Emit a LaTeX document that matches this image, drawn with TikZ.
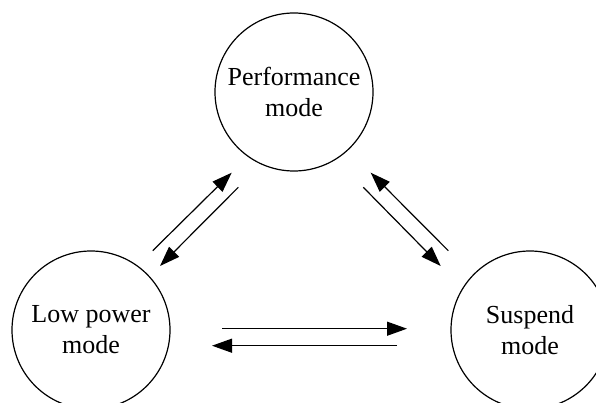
\documentclass[tikz,border=0pt]{standalone}
\usepackage{fontspec}
\setmainfont{Liberation Serif}
\usetikzlibrary{arrows.meta}

\begin{document}
\begin{tikzpicture}[x=1pt,y=-1pt,
    mode/.style={draw, circle, line width=1.2pt, minimum size=158pt, inner sep=0pt,
      align=center, font=\fontsize{26}{31}\selectfont},
    trans/.style={line width=1.2pt, -{Triangle[length=20pt,width=14pt]}}]
    \useasboundingbox (0,0) rectangle (596,403);
    \node[mode] (perf) at (294,92) {Performance\\mode};
    \node[mode] (low) at (91,330) {Low power\\mode};
    \node[mode] (susp) at (530,330) {Suspend\\mode};
    \coordinate (lp1) at (152.7,250.7);
    \coordinate (lp2) at (231.7,172.7);
    \coordinate (pl1) at (238.3,187.3);
    \coordinate (pl2) at (160,266);
    \coordinate (sp1) at (448.3,250.7);
    \coordinate (sp2) at (370.7,172.7);
    \coordinate (ps1) at (363.3,187.3);
    \coordinate (ps2) at (440.7,266);
    \coordinate (ls1) at (222,328.7);
    \coordinate (ls2) at (407,328.7);
    \coordinate (sl1) at (397,345.7);
    \coordinate (sl2) at (212,345.7);
    \draw[trans] (lp1) -- (lp2);
    \draw[trans] (pl1) -- (pl2);
    \draw[trans] (sp1) -- (sp2);
    \draw[trans] (ps1) -- (ps2);
    \draw[trans] (ls1) -- (ls2);
    \draw[trans] (sl1) -- (sl2);
\end{tikzpicture}
\end{document}
